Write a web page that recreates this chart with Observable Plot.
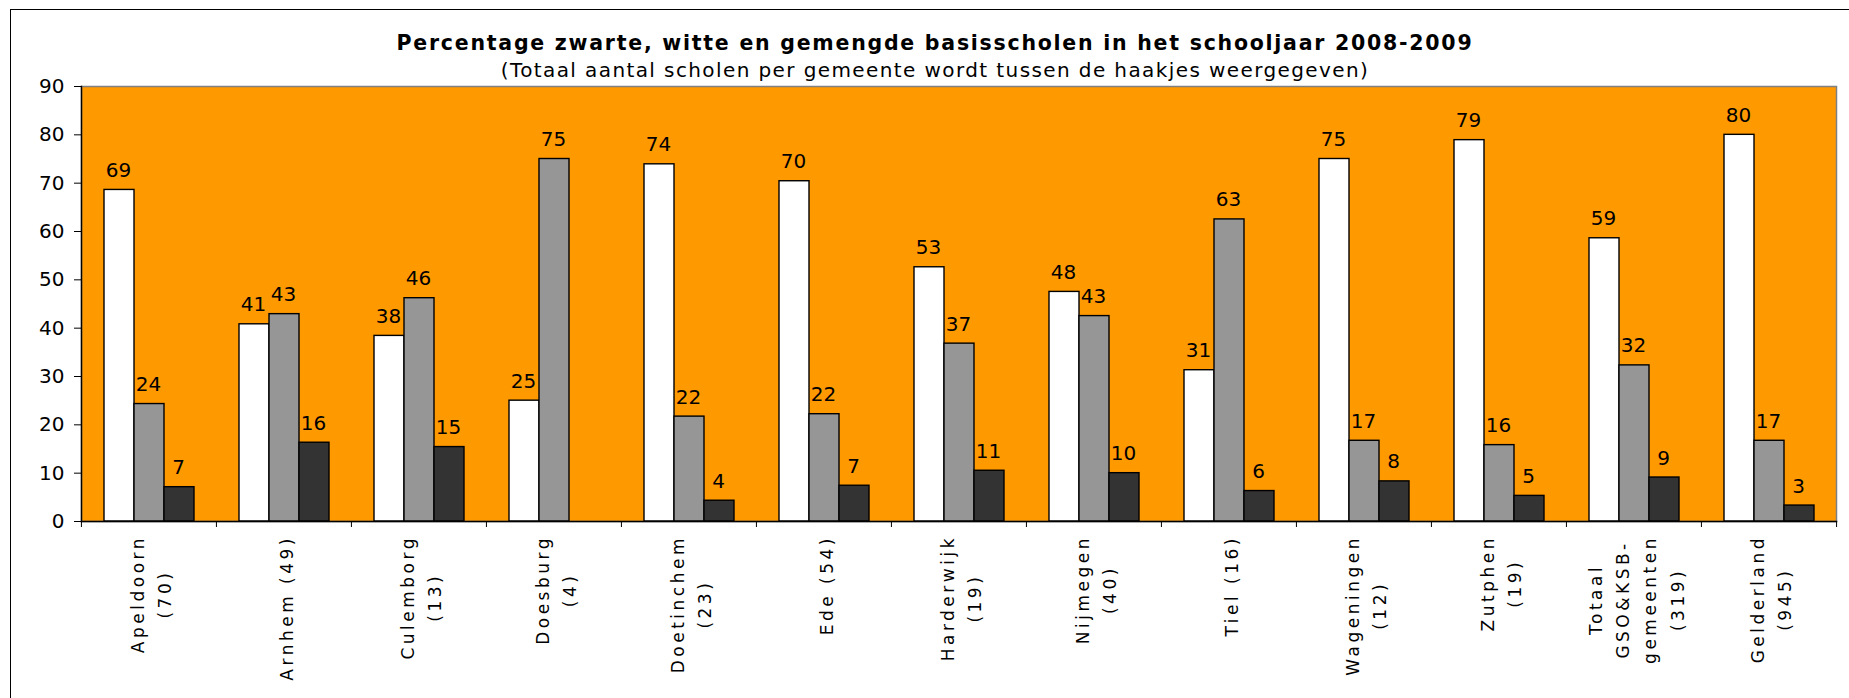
<!DOCTYPE html>
<html>
<head>
<meta charset="utf-8">
<script src="https://cdn.jsdelivr.net/npm/d3@7"></script>
<script src="https://cdn.jsdelivr.net/npm/@observablehq/plot@0.6"></script>
<style>
  html, body { margin: 0; padding: 0; background: #fff; overflow: hidden; width: 1849px; height: 698px; }
  #wrap { position: relative; width: 1849px; height: 698px; font-family: "DejaVu Sans", Verdana, sans-serif; color: #000; }
  #border { position: absolute; left: 10px; top: 9px; width: 1900px; height: 800px; border: 1px solid #000; pointer-events: none; z-index: 3; }
  #title { position: absolute; left: 0; width: 1870px; top: 33px; text-align: center; font-weight: bold; font-size: 20.5px; line-height: 20px; letter-spacing: 1.75px; z-index: 2; white-space: nowrap; }
  #subtitle { position: absolute; left: 0; width: 1870px; top: 60px; text-align: center; font-size: 20px; line-height: 20px; letter-spacing: 1.4px; z-index: 2; white-space: nowrap; }
  #chart { position: absolute; left: 0; top: 0; z-index: 1; }
</style>
</head>
<body>
<div id="wrap">
  <div id="border"></div>
  <div id="title">Percentage zwarte, witte en gemengde basisscholen in het schooljaar 2008-2009</div>
  <div id="subtitle">(Totaal aantal scholen per gemeente wordt tussen de haakjes weergegeven)</div>
  <div id="chart"></div>
</div>
<script>
// ---- data ----
const categories = ["Apeldoorn (70)", "Arnhem (49)", "Culemborg (13)", "Doesburg (4)", "Doetinchem (23)",
  "Ede (54)", "Harderwijk (19)", "Nijmegen (40)", "Tiel (16)", "Wageningen (12)", "Zutphen (19)",
  "Totaal GSO&KSB-gemeenten (319)", "Gelderland (945)"];
const tickLabels = ["Apeldoorn\n(70)", "Arnhem (49)", "Culemborg\n(13)", "Doesburg\n(4)", "Doetinchem\n(23)",
  "Ede (54)", "Harderwijk\n(19)", "Nijmegen\n(40)", "Tiel (16)", "Wageningen\n(12)", "Zutphen\n(19)",
  "Totaal\nGSO&KSB-\ngemeenten\n(319)", "Gelderland\n(945)"];
const seriesKeys = ["witte", "gemengde", "zwarte"];
const witte    = [68.6, 40.8, 38.4, 25.0, 73.9, 70.4, 52.6, 47.5, 31.3, 75.0, 78.9, 58.6, 80.0];
const gemengde = [24.3, 42.9, 46.2, 75.0, 21.7, 22.2, 36.8, 42.5, 62.5, 16.7, 15.8, 32.3, 16.7];
const zwarte   = [7.1, 16.3, 15.4, 0, 4.3, 7.4, 10.5, 10.0, 6.3, 8.3, 5.3, 9.1, 3.3];
const yTicks = [0, 10, 20, 30, 40, 50, 60, 70, 80, 90];

// ---- build table ----
const seriesValues = {witte, gemengde, zwarte};
const rows = [];
categories.forEach((cat, i) => {
  seriesKeys.forEach(s => rows.push({cat, series: s, value: seriesValues[s][i]}));
});
const labelOf = new Map(categories.map((c, i) => [c, tickLabels[i]]));

// ---- layout ----
const W = 1849, H = 698, ML = 80, MR = 12, MT = 86, MB = 177;
const step = (W - ML - MR) / categories.length;
const labelFont = 17, labelSpacing = 3.5, labelGap = 17;
const ctx = document.createElement("canvas").getContext("2d");
ctx.font = `${labelFont}px "DejaVu Sans"`;
function blockLength(label) {
  return d3.max(label.split("\n"), line => ctx.measureText(line).width + labelSpacing * line.length);
}

const xLabelMarks = categories.map(c => {
  const T = blockLength(labelOf.get(c));
  return Plot.text([c], {
    fx: d => d,
    text: d => labelOf.get(d),
    frameAnchor: "bottom",
    rotate: -90,
    textAnchor: "middle",
    lineAnchor: "middle",
    lineHeight: 1.6,
    fontSize: labelFont,
    fill: "black",
    dy: labelGap + T / 2 - labelSpacing
  });
});

const chart = Plot.plot({
  width: W, height: H,
  marginTop: MT, marginLeft: ML, marginRight: MR, marginBottom: MB,
  style: {background: "transparent", fontFamily: "DejaVu Sans", fontSize: "20px", color: "black", overflow: "visible"},
  fx: {domain: categories, padding: 0, label: null},
  x: {domain: seriesKeys, paddingInner: 0, paddingOuter: 0.75, axis: null},
  y: {domain: [0, 90], label: null},
  color: {domain: seriesKeys, range: ["#FFFFFF", "#969696", "#333333"]},
  marks: [
    Plot.frame({facet: "super", fill: "#FF9900", stroke: "#808080", strokeWidth: 1.5}),
    Plot.barY(rows, {fx: "cat", x: "series", y: "value", fill: "series", stroke: "black", strokeWidth: 1.4, filter: d => d.value > 0}),
    Plot.text(rows, {fx: "cat", x: "series", y: "value", text: d => String(Math.round(d.value)), dy: -13, dx: -1, lineAnchor: "bottom", fontSize: 20, fill: "black", filter: d => d.value > 0}),
    Plot.frame({facet: "super", anchor: "left", stroke: "black", strokeWidth: 1.4}),
    Plot.frame({facet: "super", anchor: "bottom", stroke: "black", strokeWidth: 1.4}),
    Plot.axisY({ticks: yTicks, tickSize: 7, tickPadding: 10, fontSize: 20, label: null, stroke: "black"}),
    Plot.axisFx({anchor: "bottom", tickSize: 6, tickFormat: () => "", dx: -step / 2, label: null, stroke: "black"}),
    Plot.axisFx({anchor: "bottom", ticks: [categories[categories.length - 1]], tickSize: 6, tickFormat: () => "", dx: step / 2, label: null, stroke: "black"}),
    ...xLabelMarks
  ]
});
// letter-spacing of the rotated category labels
chart.querySelectorAll('text[transform*="rotate(-90)"]').forEach(t => t.setAttribute("letter-spacing", labelSpacing));
document.getElementById("chart").appendChild(chart);
</script>
</body>
</html>
